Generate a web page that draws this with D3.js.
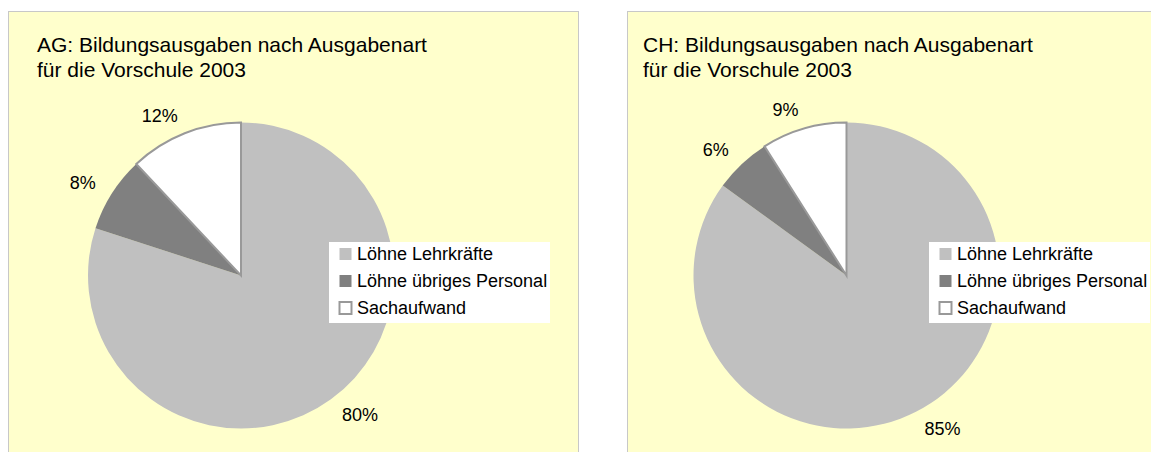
<!DOCTYPE html>
<html>
<head>
<meta charset="utf-8">
<script src="https://cdn.jsdelivr.net/npm/d3@7"></script>
<style>
  body { margin: 0; background: #fff; }
  svg text { font-family: "Liberation Sans", Arial, sans-serif; fill: #000; }
</style>
</head>
<body>
<svg id="chart" width="1151" height="452"></svg>
<script>
const categories = ["Löhne Lehrkräfte", "Löhne übriges Personal", "Sachaufwand"];
const agValues = [80, 8, 12];
const chValues = [85, 6, 9];
const agTitle = ["AG: Bildungsausgaben nach Ausgabenart", "für die Vorschule 2003"];
const chTitle = ["CH: Bildungsausgaben nach Ausgabenart", "für die Vorschule 2003"];

const fills = ["#c0c0c0", "#808080", "#ffffff"];
const strokes = ["none", "none", "#999999"];

const svg = d3.select("#chart");

// p: panel left/width, title x, pie center x, legend x
function drawPanel(p, titleLines, values) {
    svg.append("rect")
        .attr("x", p.left + 0.5).attr("y", 11.5)
        .attr("width", p.width).attr("height", 460)
        .attr("fill", "#ffffcc")
        .attr("stroke", "#c8c8c8")
        .attr("stroke-width", 1);

    svg.append("g").selectAll("text")
        .data(titleLines)
        .enter().append("text")
        .attr("x", p.titleX)
        .attr("y", (d, i) => 52 + i * 25)
        .style("font-size", "21px")
        .text(d => d);

    const radius = 153;
    const cy = 275.5;
    const pie = d3.pie().sort(null).value(d => d);
    const arcs = pie(values);
    const arc = d3.arc().innerRadius(0).outerRadius(radius);
    const labelArc = d3.arc().innerRadius(radius + 19).outerRadius(radius + 19);

    const pg = svg.append("g").attr("transform", `translate(${p.cx},${cy})`);
    pg.selectAll("path")
        .data(arcs)
        .enter().append("path")
        .attr("d", arc)
        .attr("fill", (d, i) => fills[i])
        .attr("stroke", (d, i) => strokes[i])
        .attr("stroke-width", 2)
        .attr("stroke-linejoin", "miter");

    const midAngle = d => (d.startAngle + d.endAngle) / 2;
    pg.selectAll("text")
        .data(arcs)
        .enter().append("text")
        .attr("x", d => labelArc.centroid(d)[0])
        .attr("y", d => labelArc.centroid(d)[1])
        .attr("text-anchor", d => midAngle(d) < Math.PI ? "start" : "end")
        .attr("dominant-baseline", "central")
        .style("font-size", "18px")
        .text(d => d.data + "%");

    // legend
    const lg = svg.append("g").attr("transform", `translate(${p.legendX},242)`);
    lg.append("rect")
        .attr("width", 221).attr("height", 81)
        .attr("fill", "#ffffff");
    const items = lg.selectAll("g.item")
        .data(categories)
        .enter().append("g")
        .attr("class", "item")
        .attr("transform", (d, i) => `translate(10,${12 + i * 27})`);
    items.append("rect")
        .attr("x", 0.5).attr("y", -6)
        .attr("width", 12).attr("height", 12)
        .attr("fill", (d, i) => fills[i])
        .attr("stroke", (d, i) => strokes[i])
        .attr("stroke-width", 2);
    items.append("text")
        .attr("x", 18)
        .attr("dominant-baseline", "central")
        .style("font-size", "18px")
        .text(d => d);
}

drawPanel({ left: 8, width: 570, titleX: 37, cx: 241, legendX: 329 }, agTitle, agValues);
drawPanel({ left: 627, width: 600, titleX: 643, cx: 846.5, legendX: 929 }, chTitle, chValues);
</script>
</body>
</html>
